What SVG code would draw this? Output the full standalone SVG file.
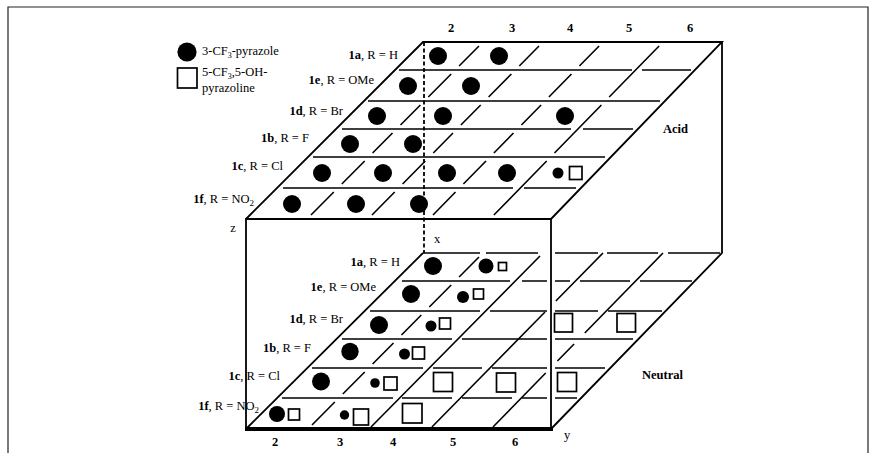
<svg xmlns="http://www.w3.org/2000/svg" width="879" height="453" viewBox="0 0 879 453">
<style>
  .ln{stroke:#000;stroke-width:1.6;fill:none}
  .edge{stroke:#000;stroke-width:1.8;fill:none}
  .dot{fill:#000}
  .box{fill:#fff;stroke:#000;stroke-width:1.7}
  .t{font-family:"Liberation Serif","Times New Roman",serif;font-size:12.5px;fill:#000}
  .b{font-weight:bold}
  .lab{text-anchor:end}
  .num{font-weight:bold;text-anchor:middle}
</style>
<rect width="879" height="453" fill="#fff"/>

<!-- outer frame -->
<path d="M8,453 V7 H868 V453" fill="none" stroke="#222" stroke-width="1.2"/>

<!-- legend -->
<g id="legend">
  <circle class="dot" cx="187" cy="52" r="9.6"/>
  <rect class="box" x="177.5" y="68" width="19.5" height="20"/>
  <text class="t" x="202" y="55" font-size="12">3-CF<tspan font-size="8" dy="2.5">3</tspan><tspan dy="-2.5">-pyrazole</tspan></text>
  <text class="t" x="202" y="76" font-size="12">5-CF<tspan font-size="8" dy="2.5">3</tspan><tspan dy="-2.5">,5-OH-</tspan></text>
  <text class="t" x="202" y="92" font-size="12">pyrazoline</text>
</g>

<!-- cube outline -->
<g id="cube">
  <path class="edge" d="M246,219 L423,42 H722 L551,219"/>
  <path class="edge" d="M246,429 V219 H551 V429"/>
  <path class="edge" d="M722,42 V253 L551,429"/>
  <path class="edge" d="M423,253 L246,429"/>
  <path d="M245,429 H553" stroke="#000" stroke-width="4"/>
  <path d="M424,42 V253" stroke="#000" stroke-width="1.8" stroke-dasharray="4 2.5"/>
</g>

<!-- acid plane (top face) grid -->
<g id="acid-grid">
  <path class="ln" d="M399,70H632 M642,70H691 M368,101H660 M342,129H571 M583,129H633 M313,157H605 M283,188H513 M524,188H576"/>
  <path class="ln" d="
    M479,46 L459.1,66 M539,46 L519.3,66 M599.1,46 L579.4,66 M659.1,46 L609.2,97
    M451.2,74 L428.3,97 M511.4,74 L488.6,97 M571.5,74 L548.9,97
    M420.4,105 L400.5,125 M480.7,105 L460.9,125 M541.1,105 L521.4,125 M601.4,105 L554.5,153
    M392.5,133 L372.6,153 M453,133 L433.3,153 M513.5,133 L493.9,153
    M364.7,161 L341.8,184 M425.3,161 L402.6,184 M486,161 L463.4,184 M546.7,161 L493.9,215
    M333.8,192 L311,215 M394.7,192 L372,215 M455.5,192 L433,215"/>
</g>

<!-- acid plane results -->
<g id="acid-results">
  <circle class="dot" cx="438" cy="56" r="9"/>
  <circle class="dot" cx="499" cy="56" r="9"/>
  <circle class="dot" cx="408" cy="86" r="9"/>
  <circle class="dot" cx="471" cy="86" r="9"/>
  <circle class="dot" cx="377" cy="116" r="9"/>
  <circle class="dot" cx="443" cy="116" r="9"/>
  <circle class="dot" cx="565" cy="116" r="9"/>
  <circle class="dot" cx="350" cy="144" r="9"/>
  <circle class="dot" cx="413" cy="144" r="9"/>
  <circle class="dot" cx="322" cy="173" r="9"/>
  <circle class="dot" cx="383" cy="173" r="9"/>
  <circle class="dot" cx="447" cy="173" r="9"/>
  <circle class="dot" cx="507" cy="173" r="9"/>
  <circle class="dot" cx="558" cy="173" r="5.5"/>
  <rect class="box" x="569.5" y="166.5" width="12.5" height="13"/>
  <circle class="dot" cx="292" cy="204" r="9"/>
  <circle class="dot" cx="356" cy="204" r="9"/>
  <circle class="dot" cx="419" cy="204" r="9"/>
</g>

<!-- neutral plane (bottom face) grid -->
<g id="neutral-grid">
  <path class="ln" d="
    M423,253H480 M486,253H538 M555,253H598 M607,253H658 M668,253H720
    M402,281H510 M522,281H547 M555,281H570 M580,281H630 M640,281H692
    M370,311H480 M490,311H547 M555,311H598 M608,311H662
    M342,339H452 M462,339H547 M555,339H633
    M312,368H423 M433,368H482 M492,368H547 M555,368H605
    M282,398H393 M402,398H452 M462,398H512 M522,398H547 M555,398H577"/>
  <path class="ln" d="
    M479,257 L459.1,277 M451.2,285 L429.3,307 M421.3,315 L401.5,335
    M393.5,343 L372.6,364 M364.7,372 L342.8,394 M334.8,402 L312,425
    M540,256 L371,427
    M603,253 L555.8,301 M545,312 L431.9,427
    M663,253 L584.8,333 M574.1,344 L557.4,361 M545.7,373 L493,427"/>
</g>

<!-- neutral plane results -->
<g id="neutral-results">
  <circle class="dot" cx="433" cy="266" r="9"/>
  <circle class="dot" cx="486" cy="266" r="7.5"/>
  <rect class="box" x="498.5" y="262.5" width="8" height="8"/>
  <circle class="dot" cx="411" cy="294" r="9"/>
  <circle class="dot" cx="463" cy="297" r="6"/>
  <rect class="box" x="473.5" y="289" width="10" height="10"/>
  <circle class="dot" cx="379" cy="325" r="9"/>
  <circle class="dot" cx="431" cy="326" r="5.5"/>
  <rect class="box" x="439.5" y="318" width="11" height="11"/>
  <rect class="box" x="554.5" y="313.5" width="18" height="18.5"/>
  <rect class="box" x="617" y="313.5" width="18.5" height="18.5"/>
  <circle class="dot" cx="350" cy="351.5" r="8.7"/>
  <circle class="dot" cx="404.5" cy="354" r="5.5"/>
  <rect class="box" x="412.5" y="347" width="12" height="12"/>
  <circle class="dot" cx="321" cy="381.5" r="9"/>
  <circle class="dot" cx="375" cy="383" r="4.8"/>
  <rect class="box" x="384" y="377" width="13" height="13"/>
  <rect class="box" x="433.5" y="372.5" width="19" height="19"/>
  <rect class="box" x="496.5" y="373" width="19" height="19"/>
  <rect class="box" x="557.5" y="372.5" width="19" height="19"/>
  <circle class="dot" cx="277" cy="414" r="8"/>
  <rect class="box" x="288.5" y="409" width="11" height="11"/>
  <circle class="dot" cx="344.5" cy="415" r="4.7"/>
  <rect class="box" x="353.5" y="409" width="15" height="16"/>
  <rect class="box" x="402.5" y="403.5" width="19.5" height="19.5"/>
</g>

<!-- row labels, acid plane -->
<g id="acid-labels">
  <text class="t lab" x="398" y="59"><tspan class="b">1a</tspan>, R = H</text>
  <text class="t lab" x="374" y="84"><tspan class="b">1e</tspan>, R = OMe</text>
  <text class="t lab" x="343" y="115"><tspan class="b">1d</tspan>, R = Br</text>
  <text class="t lab" x="309" y="142"><tspan class="b">1b</tspan>, R = F</text>
  <text class="t lab" x="283" y="170"><tspan class="b">1c</tspan>, R = Cl</text>
  <text class="t lab" x="254" y="203"><tspan class="b">1f</tspan>, R = NO<tspan font-size="9" dy="3">2</tspan></text>
</g>

<!-- row labels, neutral plane -->
<g id="neutral-labels">
  <text class="t lab" x="400" y="266"><tspan class="b">1a</tspan>, R = H</text>
  <text class="t lab" x="376" y="291"><tspan class="b">1e</tspan>, R = OMe</text>
  <text class="t lab" x="343" y="323"><tspan class="b">1d</tspan>, R = Br</text>
  <text class="t lab" x="311" y="352"><tspan class="b">1b</tspan>, R = F</text>
  <text class="t lab" x="280" y="380"><tspan class="b">1c</tspan>, R = Cl</text>
  <text class="t lab" x="259" y="410"><tspan class="b">1f</tspan>, R = NO<tspan font-size="9" dy="3">2</tspan></text>
</g>

<!-- column numbers and axes -->
<g id="axes">
  <text class="t num" x="451" y="32">2</text>
  <text class="t num" x="512" y="32">3</text>
  <text class="t num" x="570" y="32">4</text>
  <text class="t num" x="629" y="32">5</text>
  <text class="t num" x="690" y="32">6</text>
  <text class="t num" x="275" y="446">2</text>
  <text class="t num" x="340" y="446">3</text>
  <text class="t num" x="393" y="446">4</text>
  <text class="t num" x="453" y="446">5</text>
  <text class="t num" x="515" y="446">6</text>
  <text class="t" x="437" y="243" font-size="12" text-anchor="middle">x</text>
  <text class="t" x="233" y="232" font-size="12" text-anchor="middle">z</text>
  <text class="t" x="567" y="439" font-size="12" text-anchor="middle">y</text>
  <text class="t b" x="663" y="133">Acid</text>
  <text class="t b" x="642" y="379">Neutral</text>
</g>
</svg>
